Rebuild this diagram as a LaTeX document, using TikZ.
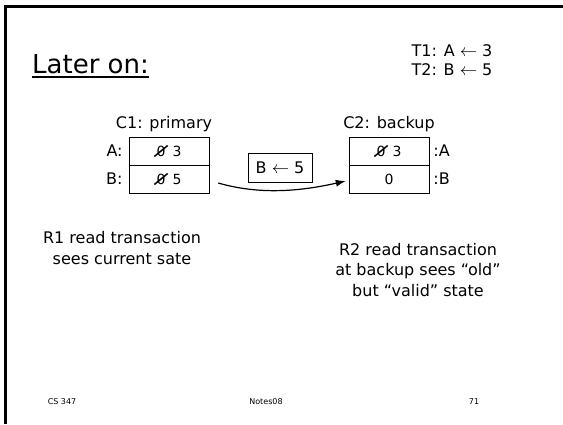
\documentclass[tikz,border=0pt]{standalone}
\usepackage{fontspec}
\setmainfont{DejaVu Sans}
\usetikzlibrary{calc,arrows.meta}
\begin{document}
\begin{tikzpicture}[x=1pt,y=-1pt,
    cell/.style={draw,minimum width=80pt,minimum height=28pt,inner sep=0pt},
    lbl/.style={font=\fontsize{16}{20.5}\selectfont,inner sep=0pt},
    num/.style={font=\fontsize{14}{16}\selectfont,inner sep=0pt},
    strike/.style={line width=1.5pt},
    foot/.style={font=\fontsize{8}{10}\selectfont,inner sep=0pt}]
  \useasboundingbox (0,0) rectangle (563,424);
  % slide frame
  \draw[line width=3pt] (563,6) -- (5,6) -- (5,424);
  \node[anchor=base west,inner sep=0pt,font=\fontsize{26}{30}\selectfont] (title) at (32,73) {Later on:};
  \draw[line width=1.5pt] ($(title.base west)+(0,4)$) -- ($(title.base east)+(0,4)$);
  \node[lbl,align=center,font=\fontsize{16}{19}\selectfont] (tx) at (452,60) {T1: A $\leftarrow$ 3\\T2: B $\leftarrow$ 5};

  % primary copy
  \node[lbl] (c1) at (164,124) {C1: primary};
  \node[cell] (p1) at (169,151) {};
  \node[cell] (p2) at (169,179) {};
  \node[lbl,anchor=east] (pa) at ($(p1.west)+(-6,0)$) {A:};
  \node[lbl,anchor=east] (pb) at ($(p2.west)+(-6,0)$) {B:};
  \node[num] (p1z) at ($(p1)+(-8,0)$) {0};
  \node[num] (p1v) at ($(p1)+(8,0)$) {3};
  \node[num] (p2z) at ($(p2)+(-8,0)$) {0};
  \node[num] (p2v) at ($(p2)+(8,0)$) {5};
  \draw[strike] ($(p1z.south west)+(-2,0)$) -- ($(p1z.north east)+(2,0)$);
  \draw[strike] ($(p2z.south west)+(-2,0)$) -- ($(p2z.north east)+(2,0)$);

  % backup copy
  \node[lbl] (c2) at (389,124) {C2: backup};
  \node[cell] (b1) at (389,151) {};
  \node[cell] (b2) at (389,179) {};
  \node[lbl,anchor=west] (ba) at ($(b1.east)+(4,0)$) {:A};
  \node[lbl,anchor=west] (bb) at ($(b2.east)+(4,0)$) {:B};
  \node[num] (b1z) at ($(b1)+(-8,0)$) {0};
  \node[num] (b1v) at ($(b1)+(8,0)$) {3};
  \node[num] (b2v) at (b2) {0};
  \draw[strike] ($(b1z.south west)+(-2,0)$) -- ($(b1z.north east)+(2,0)$);

  % update sent to backup
  \node[lbl,draw,minimum width=64pt,minimum height=29pt] (msg) at (280,168) {B $\leftarrow$ 5};
  \coordinate (s) at ($(p2.east)+(9,4)$);
  \coordinate (e) at ($(b2.west)+(-3,2)$);
  \draw[-{Latex[length=10pt,width=7pt]},line width=1.2pt] (s) .. controls +(45,13) and +(-40,9) .. (e);

  \node[lbl,align=center] (r1) at (122,248) {R1 read transaction\\sees current sate};
  \node[lbl,align=center] (r2) at (418,270) {R2 read transaction\\at backup sees “old”\\but “valid” state};

  \node[foot] (f1) at (62,402) {CS 347};
  \node[foot] (f2) at (266,402) {Notes08};
  \node[foot] (f3) at (474,402) {71};
\end{tikzpicture}
\end{document}
